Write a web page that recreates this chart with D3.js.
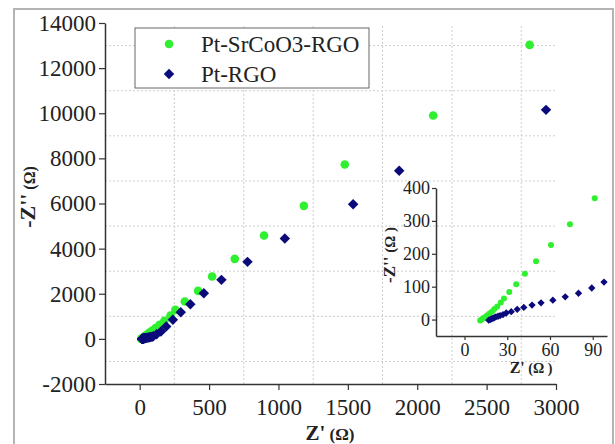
<!DOCTYPE html>
<html>
<head>
<meta charset="utf-8">
<script src="https://cdn.jsdelivr.net/npm/d3@7"></script>
<style>
  html, body { margin: 0; padding: 0; background: #fff; }
  svg text { font-family: "Liberation Serif", "Times New Roman", serif; fill: #222; }
</style>
</head>
<body>
<svg id="chart" width="615" height="444"></svg>
<script>
// Pt-SrCoO3-RGO (green circles), Z' and -Z'' in ohm
const greenX = [11, 12, 13, 14.5, 16, 17.7, 19.5, 21, 23, 25.5, 27.7, 31.4, 36.3, 42.4, 50.2, 60.7, 74, 91.4,
  114, 143, 178, 222, 257, 325, 421, 522, 685, 896, 1183, 1478, 2115, 2810];
const greenY = [-3, 0, 4, 8, 13, 19, 25, 32, 40, 52, 64, 84, 107, 139, 177, 227, 290, 369,
  480, 620, 800, 1030, 1285, 1655, 2128, 2762, 3546, 4580, 5895, 7727, 9900, 13030];

// Pt-RGO (navy diamonds)
const blueX = [17, 18, 19, 20, 21, 22, 23.5, 25, 27, 29.3, 32.8, 37, 41.6, 47.4, 53.7, 62, 70.7, 80, 89.3, 97.9,
  122, 153, 191, 239, 296, 365, 462, 589, 777, 1046, 1538, 1870, 2928];
const blueY = [-2, 0, 2, 4, 6, 8, 10, 12, 15, 20, 24, 31, 37, 44, 51, 59, 69, 80, 96, 114,
  200, 330, 550, 850, 1183, 1538, 2026, 2615, 3413, 4446, 5970, 7447, 10150];

const seriesNames = ["Pt-SrCoO3-RGO", "Pt-RGO"];

const mainXTicks = [0, 500, 1000, 1500, 2000, 2500, 3000];
const mainYTicks = [-2000, 0, 2000, 4000, 6000, 8000, 10000, 12000, 14000];
const mainXGrid = [250, 750, 1250, 1750, 2250, 2750];
const mainYGrid = [-1000, 1000, 3000, 5000, 7000, 9000, 11000, 13000];

const insetXTicks = [0, 30, 60, 90];
const insetYTicks = [0, 100, 200, 300, 400];

const green = "#2ef02e";
const navy = "#0a0a7a";

const svg = d3.select("#chart");

// outer frame
svg.append("rect")
  .attr("x", 14).attr("y", 9)
  .attr("width", 599).attr("height", 445)
  .attr("fill", "none")
  .attr("stroke", "#b4b4b4")
  .attr("stroke-width", 2);

const x = d3.scaleLinear().domain([-250, 3000]).range([105, 556]);
const y = d3.scaleLinear().domain([-2000, 14000]).range([384, 23]);

// dotted grid (at the minor positions)
const grid = svg.append("g")
  .attr("stroke", "#cfcfcf")
  .attr("stroke-width", 1)
  .attr("stroke-dasharray", "2,2");
grid.selectAll("line.v").data(mainXGrid).enter().append("line")
  .attr("x1", d => x(d)).attr("x2", d => x(d))
  .attr("y1", y(14000) + 3).attr("y2", y(-2000));
grid.selectAll("line.h").data(mainYGrid).enter().append("line")
  .attr("x1", x(-250)).attr("x2", x(3000))
  .attr("y1", d => y(d)).attr("y2", d => y(d));

function styleAxis(g, size) {
  g.select(".domain").attr("stroke", "#333").attr("stroke-width", 1.5);
  g.selectAll(".tick line").attr("stroke", "#333").attr("stroke-width", 1.2);
  g.selectAll(".tick text")
    .attr("fill", "#222")
    .style("font-family", '"Liberation Serif", serif')
    .style("font-size", size + "px");
}

// plain numbers with an ASCII hyphen for negatives
const plain = d => String(d);

svg.append("g")
  .attr("transform", `translate(${x(-250)},0)`)
  .call(d3.axisLeft(y).tickValues(mainYTicks).tickFormat(plain).tickSize(6).tickSizeOuter(0).tickPadding(3))
  .call(g => styleAxis(g, 23));

svg.append("g")
  .attr("transform", `translate(0,${y(-2000)})`)
  .call(d3.axisBottom(x).tickValues(mainXTicks).tickFormat(plain).tickSize(6).tickSizeOuter(0).tickPadding(9))
  .call(g => styleAxis(g, 23));

// axis titles
svg.append("text")
  .attr("transform", "translate(35,197) rotate(-90)")
  .attr("text-anchor", "middle")
  .style("font-weight", "bold")
  .call(t => {
    t.append("tspan").style("font-size", "22px").text("-Z''");
    t.append("tspan").style("font-size", "16px").text(" (Ω)");
  });

svg.append("text")
  .attr("x", 330).attr("y", 440)
  .attr("text-anchor", "middle")
  .style("font-weight", "bold")
  .call(t => {
    t.append("tspan").style("font-size", "21px").text("Z'");
    t.append("tspan").style("font-size", "17px").text(" (Ω)");
  });

const diamond = d3.symbol().type(d3.symbolDiamond2);

function drawSeries(g, sx, sy, cr, dSize) {
  g.append("g").selectAll("circle")
    .data(d3.zip(greenX, greenY).filter(([a, b]) => sx.domain()[1] >= a && sy.domain()[1] >= b))
    .enter().append("circle")
    .attr("cx", d => sx(d[0])).attr("cy", d => sy(d[1]))
    .attr("r", cr)
    .attr("fill", green);
  g.append("g").selectAll("path")
    .data(d3.zip(blueX, blueY).filter(([a, b]) => sx.domain()[1] >= a && sy.domain()[1] >= b))
    .enter().append("path")
    .attr("transform", d => `translate(${sx(d[0])},${sy(d[1])})`)
    .attr("d", diamond.size(dSize)())
    .attr("fill", navy);
}

drawSeries(svg, x, y, 4.3, 70);

// legend
const legend = svg.append("g");
legend.append("rect")
  .attr("x", 135).attr("y", 28).attr("width", 234).attr("height", 60)
  .attr("fill", "#fff").attr("stroke", "#666").attr("stroke-width", 1);
legend.append("circle").attr("cx", 169).attr("cy", 44).attr("r", 4.3).attr("fill", green);
legend.append("path").attr("transform", "translate(169,74)")
  .attr("d", diamond.size(70)()).attr("fill", navy);
legend.selectAll("text.lab").data(seriesNames).enter().append("text")
  .attr("x", 201).attr("y", (d, i) => 52 + i * 30)
  .style("font-size", "23px")
  .text(d => d);

// inset
const ix = d3.scaleLinear().domain([-20, 100]).range([436, 607]);
const iy = d3.scaleLinear().domain([-50, 400]).range([336, 188]);

svg.append("g")
  .attr("transform", `translate(${ix(-20)},0)`)
  .call(d3.axisLeft(iy).tickValues(insetYTicks).tickSize(4).tickSizeOuter(0).tickPadding(2))
  .call(g => styleAxis(g, 18));

svg.append("g")
  .attr("transform", `translate(0,${iy(-50)})`)
  .call(d3.axisBottom(ix).tickValues(insetXTicks).tickSize(4).tickSizeOuter(0).tickPadding(3))
  .call(g => styleAxis(g, 18));

svg.append("text")
  .attr("transform", "translate(395,255) rotate(-90)")
  .attr("text-anchor", "middle")
  .style("font-weight", "bold")
  .call(t => {
    t.append("tspan").style("font-size", "17px").text("-Z''");
    t.append("tspan").style("font-size", "15px").text(" (Ω )");
  });

svg.append("text")
  .attr("x", 531).attr("y", 373)
  .attr("text-anchor", "middle")
  .style("font-weight", "bold")
  .call(t => {
    t.append("tspan").style("font-size", "16px").text("Z'");
    t.append("tspan").style("font-size", "14px").text(" (Ω )");
  });

drawSeries(svg, ix, iy, 3, 34);
</script>
</body>
</html>
